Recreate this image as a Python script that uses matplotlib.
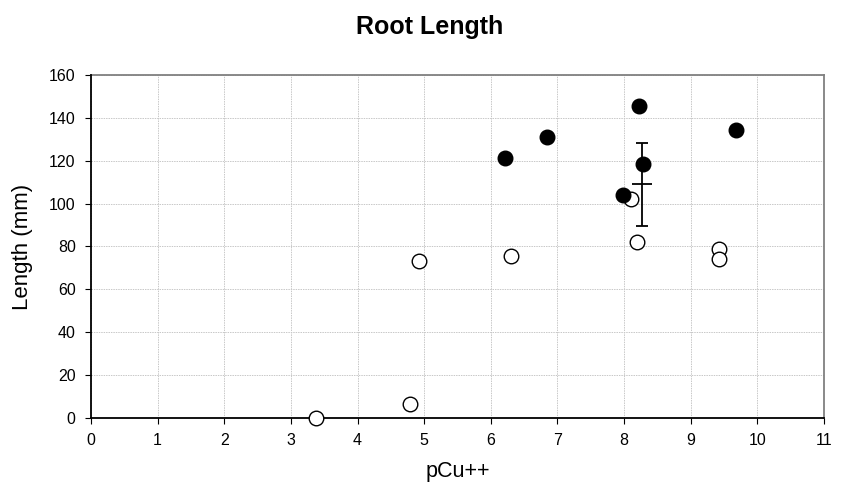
import matplotlib
matplotlib.use("Agg")
import matplotlib.pyplot as plt

plt.rcParams['font.family'] = ['Liberation Sans', 'DejaVu Sans']

filled_x = [6.21, 6.85, 8.23, 7.99, 8.29, 9.68]
filled_y = [121.2, 131.0, 145.5, 104.0, 118.5, 134.3]
open_x = [3.37, 4.78, 4.92, 6.31, 8.11, 8.19, 9.43, 9.43]
open_y = [0.0, 6.5, 73.3, 75.5, 102.0, 82.0, 78.8, 74.2]
mean_x = [8.27]
mean_y = [109.0]
mean_err = [19.5]

fig = plt.figure(figsize=(8.62, 4.88), dpi=100)
ax = fig.add_axes([91/862, 1-418/488, (824-91)/862, (418-75)/488])

ax.set_xlim(0, 11)
ax.set_ylim(0, 160)
ax.set_xticks(range(0, 12))
ax.set_yticks(range(0, 161, 20))
ax.grid(True, color='#c8c8c8', linestyle=(0, (1.5, 1)), linewidth=0.7)
ax.set_axisbelow(True)
for s in ['top', 'right']:
    ax.spines[s].set_color('#808080')
    ax.spines[s].set_linewidth(1.3)
for s in ['left', 'bottom']:
    ax.spines[s].set_linewidth(1.3)
    ax.spines[s].set_zorder(3)
ax.tick_params(direction='out', length=4, labelsize=11.5, width=0.8, colors='black', pad=7)

ax.errorbar(mean_x, mean_y, yerr=mean_err, fmt='_', color='black', markersize=15,
            markeredgewidth=1.3, capsize=4, capthick=1.3, elinewidth=1.3, zorder=3)
ax.scatter(open_x, open_y, s=110, facecolors='white', edgecolors='black', linewidths=1.0, zorder=4, clip_on=False)
ax.scatter(filled_x, filled_y, s=110, facecolors='black', edgecolors='black', linewidths=1.0, zorder=5, clip_on=False)

fig.text(458/862, 1-472/488, 'pCu++', ha='center', va='center', fontsize=15.5)
fig.text(23/862, 1-247/488, 'Length (mm)', ha='center', va='center', fontsize=16, rotation=90)
fig.text(430/862, 1-27/488, 'Root Length', ha='center', va='center', fontsize=18, fontweight='bold')

fig.savefig('out.png', dpi=100)
